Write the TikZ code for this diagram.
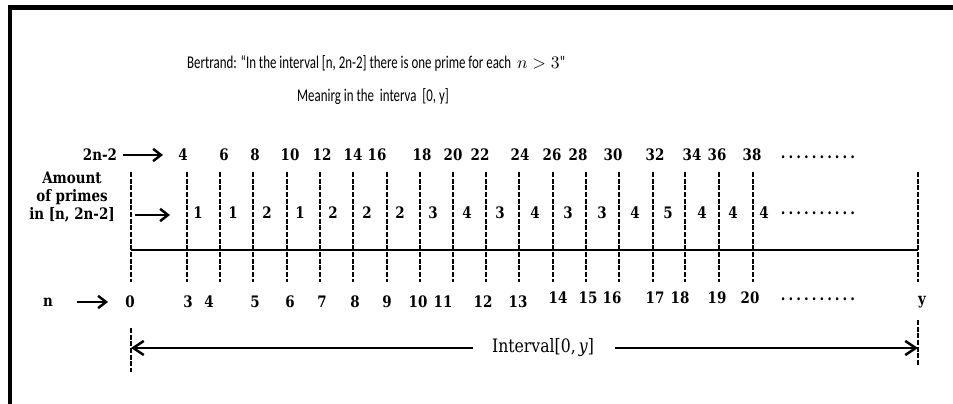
\documentclass[tikz,border=0pt]{standalone}
\usepackage{fontspec}
\setmainfont{DejaVu Serif}[FakeStretch=0.85]
\newfontfamily\titlefont[FakeStretch=0.72]{Carlito}
\usetikzlibrary{arrows.meta}

\newcommand{\chamlien}{\makebox[44pt][l]{\xleaders\hbox to 4.4pt{\hss\bfseries.\hss}\hfill}}

\begin{document}
\begin{tikzpicture}[x=0.02cm, y=-0.02cm,
    >={Straight Barb[length=4.5pt,width=7pt]},
    so/.style={font=\fontsize{9}{10.5}\selectfont\bfseries, inner sep=0pt},
    tieude/.style={font=\titlefont\fontsize{10.2}{11}\selectfont, inner sep=0pt},
    vach/.style={line width=1.5pt, dash pattern=on 2.8pt off 1pt},
    muiten/.style={->, line width=1.4pt}]
    \useasboundingbox (0,0) rectangle (953,404);
    % 1. Khung
    \draw[line width=2.6pt] (10,404) -- (10,7.5) -- (953,7.5);

    % 2. Tiêu đề
    \node[tieude] (dinhly) at (376,63) {Bertrand: “In the interval [n, 2n-2] there is one prime for each \ $n > 3$"};
    \node[tieude] (ynghia) at (373,97) {Meanirg in the \ interva \ [0, y]};

    % 3. Các vạch chia
    \foreach \x [count=\i] in {131,187,220,253,287,320,353,387,420,453,486,519,553,586,619,653,685,719,753,918} {
        \coordinate (tren\i) at (\x,172);
        \coordinate (duoi\i) at (\x,282);
        \draw[vach] (tren\i) -- (duoi\i);
    }
    \coordinate (trucA) at (131,250);
    \coordinate (trucB) at (918,250);
    \draw[line width=1.7pt] (trucA) -- (trucB);

    % 4. Hàng 2n-2
    \node[so] (nhan2n) at (100,155) {2n-2};
    \foreach \x/\t in {183/4,224/6,255/8,290/10,322/12,353/14,377/16,422/18,453/20,480/22,520/24,552/26,578/28,613/30,655/32,692/34,717/36,752/38}
        \node[so] (h\t) at (\x,155) {\t};
    \node[so] (cham1) at (818,157) {\chamlien};
    \coordinate (m1a) at (123,155);
    \coordinate (m1b) at (163,155);
    \draw[muiten] (m1a) -- (m1b);

    % 5. Số lượng số nguyên tố
    \node[so, align=center] (soluong) at (72,197) {Amount\\of primes\\in [n, 2n-2]};
    \foreach \x/\t [count=\i] in {198/1,233/1,267/2,300/1,333/2,367/2,400/2,433/3,467/4,500/3,535/4,568/3,602/3,635/4,668/5,702/4,733/4,764/4}
        \node[so] (sl\i) at (\x,213) {\t};
    \node[so] (cham2) at (818,213) {\chamlien};
    \coordinate (m2a) at (135,215);
    \coordinate (m2b) at (170,215);
    \draw[muiten] (m2a) -- (m2b);

    % 6. Hàng n
    \node[so] (nhann) at (48,302) {n};
    \foreach \x/\t in {130/0,188/3,209/4,255/5,290/6,322/7,355/8,387/9,418/10,443/11,483/12,518/13}
        \node[so] (n\t) at (\x,302) {\t};
    \foreach \x/\t in {558/14,588/15,612/16,655/17,680/18,717/19,750/20}
        \node[so] (n\t) at (\x,298) {\t};
    \node[so] (cham3) at (818,299) {\chamlien};
    \node[so] (ny) at (922,302) {y};
    \coordinate (m3a) at (77,302);
    \coordinate (m3b) at (108,302);
    \draw[muiten] (m3a) -- (m3b);

    % 7. Khoảng [0, y]
    \node[so, font=\fontsize{10.5}{11}\selectfont] (khoang) at (543,348) {Interval[0,\,\textit{y}]};
    \coordinate (k0a) at (131,328);
    \coordinate (k0b) at (131,372);
    \coordinate (kya) at (918,320);
    \coordinate (kyb) at (918,365);
    \draw[vach] (k0a) -- (k0b);
    \draw[vach] (kya) -- (kyb);
    \coordinate (trai) at (131,348);
    \coordinate (phai) at (918,348);
    \coordinate (khoangT) at (473,348);
    \coordinate (khoangP) at (615,348);
    \draw[muiten, >={Straight Barb[length=6pt,width=8pt]}] (khoangT) -- (trai);
    \draw[muiten, >={Straight Barb[length=6pt,width=8pt]}] (khoangP) -- (phai);
\end{tikzpicture}
\end{document}
